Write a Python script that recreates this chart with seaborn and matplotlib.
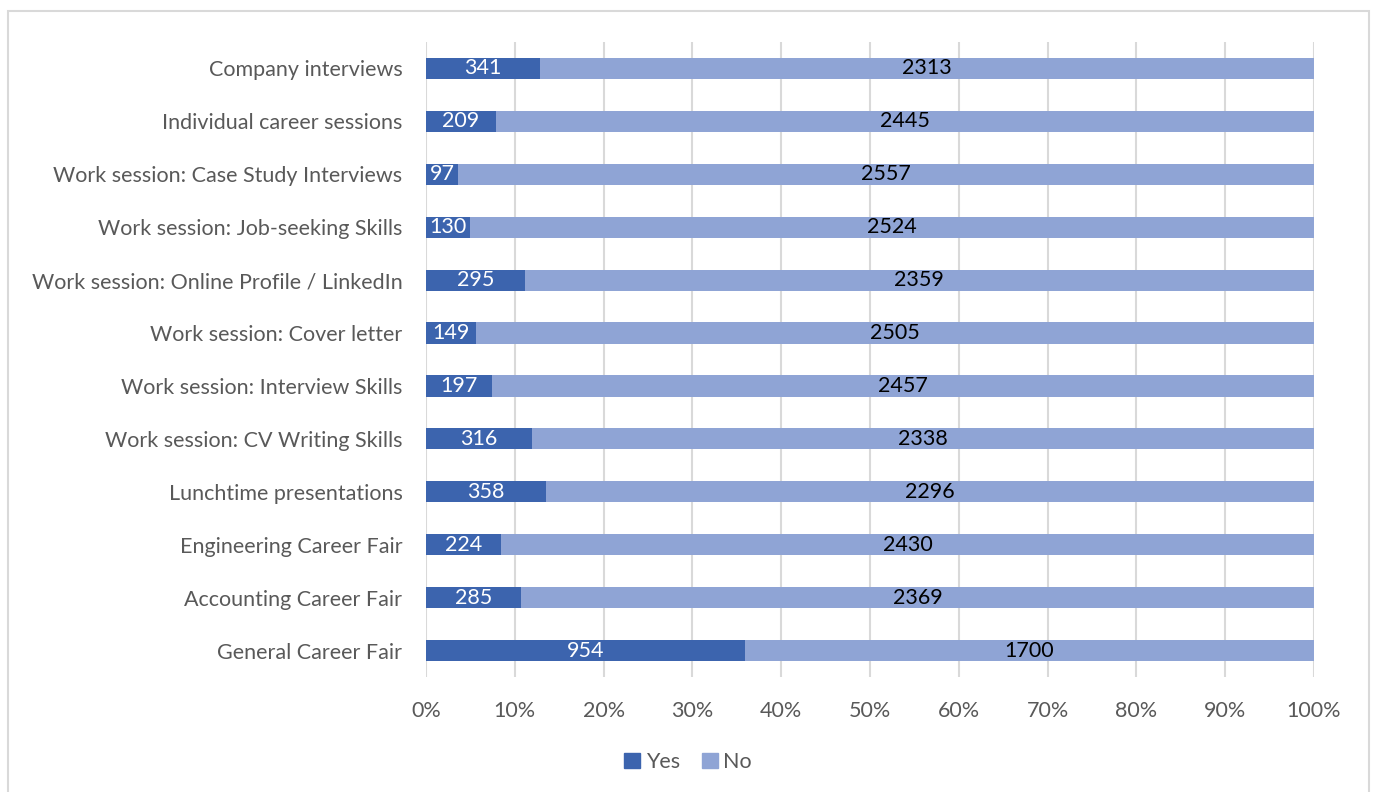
import numpy as np
import pandas as pd
import matplotlib
matplotlib.use("Agg")
import matplotlib.pyplot as plt
import seaborn as sns
from matplotlib.patches import Patch, Rectangle

# Event attendance (Yes / No counts), top to bottom as in the chart
events = ["Company interviews", "Individual career sessions",
          "Work session: Case Study Interviews", "Work session: Job-seeking Skills",
          "Work session: Online Profile / LinkedIn", "Work session: Cover letter",
          "Work session: Interview Skills", "Work session: CV Writing Skills",
          "Lunchtime presentations", "Engineering Career Fair",
          "Accounting Career Fair", "General Career Fair"]
yes = [341, 209, 97, 130, 295, 149, 197, 316, 358, 224, 285, 954]
no = [2313, 2445, 2557, 2524, 2359, 2505, 2457, 2338, 2296, 2430, 2369, 1700]

df = pd.DataFrame({"Event": events, "Yes": yes, "No": no})
df["Total"] = df["Yes"] + df["No"]
df["YesPct"] = df["Yes"] / df["Total"] * 100
df["AllPct"] = 100.0

yes_col = "#3C64AE"
no_col = "#8FA4D5"
fs = 15.5

sns.set_theme(style="white")
plt.rcParams['font.family'] = ['Lato', 'DejaVu Sans']

fig = plt.figure(figsize=(13.76, 7.92), dpi=100)
ax = fig.add_axes([0.3096, 0.1452, 0.6453, 0.8018])

sns.barplot(data=df, y="Event", x="AllPct", color=no_col, width=0.4,
            saturation=1, ax=ax, zorder=3, orient="h", linewidth=0)
sns.barplot(data=df, y="Event", x="YesPct", color=yes_col, width=0.4,
            saturation=1, ax=ax, zorder=4, orient="h", linewidth=0)

for i, row in df.iterrows():
    ax.text(row["YesPct"] / 2, i, str(row["Yes"]), ha="center", va="center",
            color="white", fontsize=fs, zorder=5)
    ax.text(row["YesPct"] + (100 - row["YesPct"]) / 2, i, str(row["No"]),
            ha="center", va="center", color="black", fontsize=fs, zorder=5)

ax.set_xlim(0, 100)
ax.set_ylim(len(events) - 0.5, -0.5)
ax.set_xticks(np.arange(0, 101, 10))
ax.set_xticklabels([f"{v}%" for v in range(0, 101, 10)])
ax.xaxis.grid(True, color="#D9D9D9", linewidth=1.5, zorder=0)
ax.yaxis.grid(False)
for s in ax.spines.values():
    s.set_visible(False)
ax.set_xlabel("")
ax.set_ylabel("")
ax.tick_params(axis="both", length=0, labelsize=fs, labelcolor="#595959")
ax.tick_params(axis="y", pad=17)
ax.tick_params(axis="x", pad=17)

handles = [Patch(color=yes_col, label="Yes"), Patch(color=no_col, label="No")]
fig.legend(handles=handles, loc="center", bbox_to_anchor=(0.5, 0.038), ncol=2,
           frameon=False, fontsize=fs, handlelength=0.75, handleheight=0.75,
           handletextpad=0.25, columnspacing=1.0, labelcolor="#595959")

fig.patches.append(Rectangle((8 / 1376, -0.01), 1361 / 1376, 1 - 11 / 792 + 0.01,
                             transform=fig.transFigure, fill=False,
                             edgecolor="#D9D9D9", linewidth=1.5))

fig.savefig("out.png", dpi=100)
